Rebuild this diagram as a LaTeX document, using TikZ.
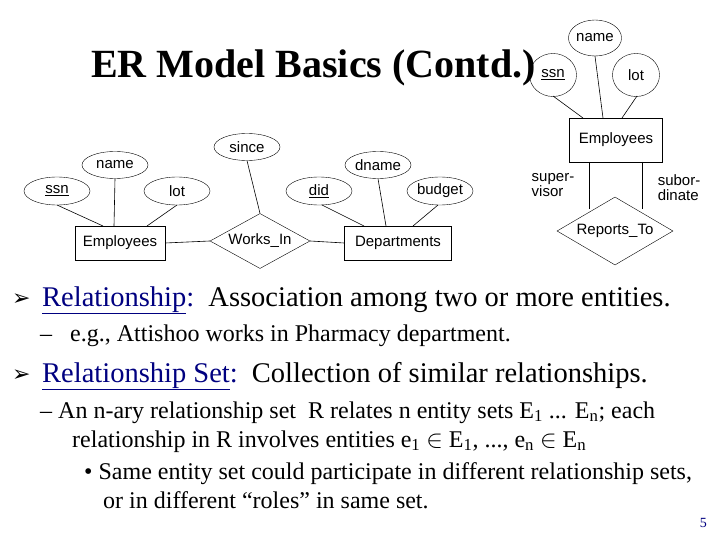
\documentclass[tikz,border=0pt]{standalone}
\usepackage{fontspec}
\setmainfont{Liberation Serif}
\newfontfamily\arial{Liberation Sans}
\newfontfamily\djv{DejaVu Sans}
\usetikzlibrary{shapes.geometric}
\definecolor{navy}{HTML}{000080}
\begin{document}
\begin{tikzpicture}[x=1pt,y=-1pt,
  er/.style={font=\arial\fontsize{15}{15}\selectfont, inner sep=0pt},
  att/.style={er, draw, ellipse, minimum width=66pt, minimum height=28pt},
  ent/.style={er, draw, rectangle},
  rel/.style={er, draw, diamond, aspect=1.8, inner sep=0pt},
  ln/.style={draw, line width=0.6pt},
  body/.style={anchor=base west, inner sep=0pt, font=\fontsize{28.5}{28.5}\selectfont},
  sub/.style={anchor=base west, inner sep=0pt, font=\fontsize{24}{24}\selectfont}]
\useasboundingbox (0,0) rectangle (720,540);
% title
\node[anchor=base west, inner sep=0pt, font=\bfseries\fontsize{40}{40}\selectfont] (title) at (91,78) {ER Model Basics (Contd.)};
% left diagram
\node[att] (ssn) at (57,191) {\underline{ssn}};
\node[att, minimum height=27pt] (name) at (115,165) {name};
\node[att] (lot) at (177,191) {lot};
\node[ent, minimum width=90pt, minimum height=34pt] (emp) at (120,243) {Employees};
\node[rel, minimum width=100pt, minimum height=55pt] (wi) at (260,241) {Works\_In};
\node[att, minimum height=27pt] (since) at (247,147) {since};
\node[att] (did) at (319,191) {\underline{did}};
\node[att, minimum height=27pt] (dname) at (378,165) {dname};
\node[att] (budget) at (440,191) {budget};
\node[ent, minimum width=107pt, minimum height=34pt] (dep) at (398,243) {Departments};
\coordinate (e1) at (103,226); \coordinate (e2) at (114,226); \coordinate (e3) at (147,226);
\coordinate (d1) at (364,226); \coordinate (d2) at (386,226); \coordinate (d3) at (413,226);
\coordinate (a1) at (57,205); \coordinate (a3) at (177,205);
\coordinate (b1) at (322,205); \coordinate (b3) at (438,205);
\draw[ln] (a1) -- (e1);
\draw[ln] (name.south) -- (e2);
\draw[ln] (a3) -- (e3);
\draw[ln] (emp.east) -- (wi.west);
\draw[ln] (wi.east) -- (dep.west);
\draw[ln] (since.south) -- (wi.north);
\draw[ln] (b1) -- (d1);
\draw[ln] (dname.south) -- (d2);
\draw[ln] (b3) -- (d3);
% right diagram
\node[er, draw, ellipse, minimum width=48pt, minimum height=36pt] (rname) at (595,38) {name};
\node[er, draw, ellipse, minimum width=47pt, minimum height=43pt] (rssn) at (553,75) {\underline{ssn}};
\node[er, draw, ellipse, minimum width=47pt, minimum height=43pt] (rlot) at (636,75) {lot};
\node[ent, minimum width=93pt, minimum height=44pt] (remp) at (616,140) {Employees};
\node[rel, minimum width=116pt, minimum height=68pt] (rt) at (615,231) {Reports\_To};
\coordinate (r1) at (553,96); \coordinate (r3) at (637,96);
\draw[ln] (r1) -- (583,118);
\draw[ln] (rname.south) -- (603,118);
\draw[ln] (r3) -- (622,118);
\coordinate (s1) at (589,162); \coordinate (s2) at (589,209);
\coordinate (t1) at (642,162); \coordinate (t2) at (642,209);
\draw[ln] (s1) -- (s2);
\draw[ln] (t1) -- (t2);
\node[er, align=left] (sup) at (553,185) {super-\\visor};
\node[er, align=left] (subo) at (679,188) {subor-\\dinate};
% text
\node[anchor=base west, inner sep=0pt, font=\djv\fontsize{22}{22}\selectfont] (bl1) at (12,305) {➢};
\node[body] (t1x) at (42,306) {\textcolor{navy}{\underline{Relationship}:}\ \ Association among two or more entities.};
\node[sub] (t2x) at (40,341) {–\ \ \ e.g., Attishoo works in Pharmacy department.};
\node[anchor=base west, inner sep=0pt, font=\djv\fontsize{22}{22}\selectfont] (bl2) at (12,381) {➢};
\node[body] (t3x) at (42,382) {\textcolor{navy}{\underline{Relationship Set}:}\ \ Collection of similar relationships.};
\node[sub] (t4x) at (40,418) {–\ An n-ary relationship set\ \ R relates n entity sets E\textsubscript{1} ... E\textsubscript{n}; each};
\node[sub] (t5x) at (72,447) {relationship in R involves entities e\textsubscript{1} $\in$ E\textsubscript{1}, ..., e\textsubscript{n} $\in$ E\textsubscript{n}};
\node[sub] (t6x) at (84,479) {•\ Same entity set could participate in different relationship sets,};
\node[sub] (t7x) at (103,508) {or in different “roles” in same set.};
\node[anchor=base east, inner sep=0pt, font=\fontsize{14}{14}\selectfont, text=navy] (pg) at (707,527) {5};
\end{tikzpicture}
\end{document}
